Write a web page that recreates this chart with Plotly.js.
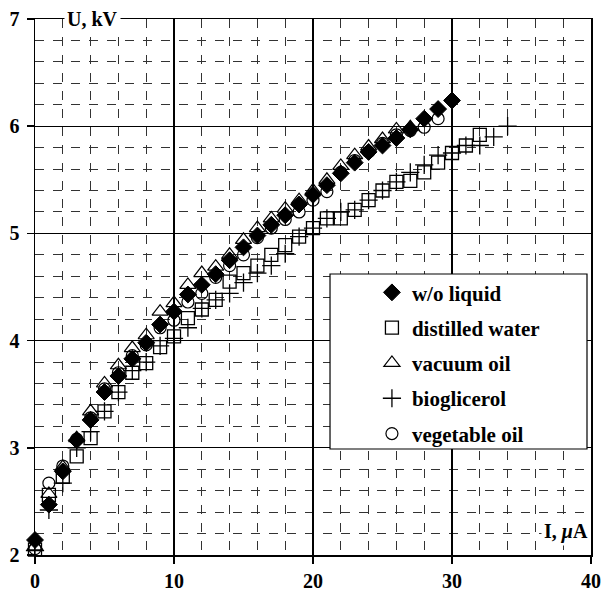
<!DOCTYPE html>
<html>
<head>
<meta charset="utf-8">
<script src="https://cdn.plot.ly/plotly-3.0.1.min.js"></script>
<style>html,body{margin:0;padding:0;background:#fff;}#chart{width:603px;height:599px;}</style>
</head>
<body>
<div id="chart"></div>
<script>
// Current I, µA (integer steps) and voltage U, kV for each case
var seriesNames = ["w/o liquid", "distilled water", "vacuum oil", "bioglicerol", "vegetable oil"];

var uWithoutLiquid = [2.14,2.47,2.78,3.07,3.26,3.52,3.67,3.83,3.98,4.15,4.27,4.43,4.52,4.62,4.75,4.87,4.98,5.08,5.17,5.27,5.36,5.45,5.56,5.66,5.76,5.82,5.89,5.97,6.07,6.16,6.24];
var uDistilledWater = [2.05,2.56,2.73,2.92,3.09,3.34,3.52,3.70,3.79,3.94,4.04,4.21,4.29,4.38,4.55,4.63,4.70,4.80,4.89,4.97,5.05,5.14,5.14,5.22,5.31,5.40,5.48,5.49,5.57,5.66,5.75,5.82,5.92];
var uVacuumOil = [2.08,2.57,2.82,3.09,3.34,3.60,3.77,3.93,4.05,4.27,4.35,4.52,4.63,4.69,4.80,4.94,5.05,5.14,5.23,5.31,5.40,5.50,5.63,5.73,5.81,5.88,5.97,5.99];
var uBioglicerol = [2.04,2.42,2.67,3.00,3.15,3.34,3.52,3.72,3.80,3.95,4.02,4.12,4.30,4.38,4.44,4.54,4.63,4.70,4.81,4.97,5.05,5.14,5.20,5.22,5.31,5.40,5.48,5.57,5.64,5.73,5.75,5.82,5.82,5.90,6.00];
var uVegetableOil = [2.06,2.67,2.83,3.08,3.28,3.55,3.70,3.86,3.96,4.12,4.19,4.36,4.44,4.59,4.70,4.80,4.96,5.05,5.13,5.20,5.31,5.39,5.57,5.68,5.76,5.84,5.92,5.96,5.99,6.07];

var xTickVals = [0, 10, 20, 30, 40];
var yTickVals = [2, 3, 4, 5, 6, 7];

function currents(arr) { return arr.map(function (v, i) { return i; }); }

var FONT = "Liberation Serif, Times New Roman, serif";
var seriesValues = [uWithoutLiquid, uDistilledWater, uVacuumOil, uBioglicerol, uVegetableOil];
var styles = [
  {symbol: "diamond", size: 13, color: "#000", line: {color: "#000", width: 1}},
  {symbol: "square-open", size: 13, color: "#000", line: {color: "#000", width: 1.3}},
  {symbol: "triangle-up-open", size: 14, color: "#000", line: {color: "#000", width: 1.2}},
  {symbol: "cross-thin-open", size: 13, color: "#000", line: {color: "#000", width: 1.3}},
  {symbol: "circle-open", size: 12, color: "#000", line: {color: "#000", width: 1.2}}
];

var traces = seriesValues.map(function (vals, k) {
  return {
    type: "scatter", mode: "markers",
    x: currents(vals), y: vals,
    name: seriesNames[k], legendgroup: "g" + k,
    marker: styles[k], cliponaxis: false, hoverinfo: "x+y+name"
  };
});

var layout = {
  width: 603, height: 599,
  margin: {l: 35, r: 12, t: 19, b: 44},
  paper_bgcolor: "#fff", plot_bgcolor: "#fff",
  font: {family: FONT, size: 20, color: "#000"},
  showlegend: true,
  legend: {
    x: 0.606, y: 0.5276, xanchor: "left", yanchor: "top",
    bgcolor: "rgba(0,0,0,0)", borderwidth: 0,
    traceorder: "grouped", tracegroupgap: 5,
    font: {family: FONT, size: 21, color: "#000", weight: "bold"}
  },
  xaxis: {
    range: [0, 40], tickvals: xTickVals, ticktext: xTickVals.map(String),
    showline: true, linecolor: "#000", linewidth: 1.5, mirror: true,
    ticks: "outside", ticklen: 7, tickcolor: "#000", tickwidth: 1.5,
    showgrid: true, gridcolor: "#000", gridwidth: 1.3,
    zeroline: false,
    minor: {dtick: 2, showgrid: true, gridcolor: "#333", griddash: "dash", gridwidth: 1, ticks: ""},
    tickfont: {family: FONT, size: 20, color: "#000", weight: "bold"}
  },
  yaxis: {
    range: [2, 7], tickvals: yTickVals, ticktext: yTickVals.map(String),
    showline: true, linecolor: "#000", linewidth: 1.5, mirror: true,
    ticks: "outside", ticklen: 7, tickcolor: "#000", tickwidth: 1.5,
    ticklabelstandoff: 3,
    showgrid: true, gridcolor: "#000", gridwidth: 1.3,
    zeroline: false,
    minor: {dtick: 0.2, showgrid: true, gridcolor: "#333", griddash: "dash", gridwidth: 1, ticks: ""},
    tickfont: {family: FONT, size: 20, color: "#000", weight: "bold"}
  },
  shapes: [{
    type: "rect", xref: "paper", yref: "paper", layer: "above",
    x0: 0.5306, x1: 0.9928, y0: 0.1978, y1: 0.5243,
    fillcolor: "#fff", line: {color: "#000", width: 1.2}
  }],
  annotations: [
    {xref: "x", yref: "y", x: 4.13, y: 7, xanchor: "center", yanchor: "middle",
     text: "U, kV", showarrow: false, bgcolor: "#fff", borderpad: 2,
     font: {family: FONT, size: 20, color: "#000", weight: "bold"}},
    {xref: "x", yref: "y", x: 40, y: 2.215, xanchor: "right", yanchor: "middle",
     text: "I, <i>μ</i>A", showarrow: false, bgcolor: "#fff", borderpad: 2,
     font: {family: FONT, size: 20, color: "#000", weight: "bold"}}
  ]
};

Plotly.newPlot("chart", traces, layout, {displayModeBar: false, staticPlot: true});
</script>
</body>
</html>
